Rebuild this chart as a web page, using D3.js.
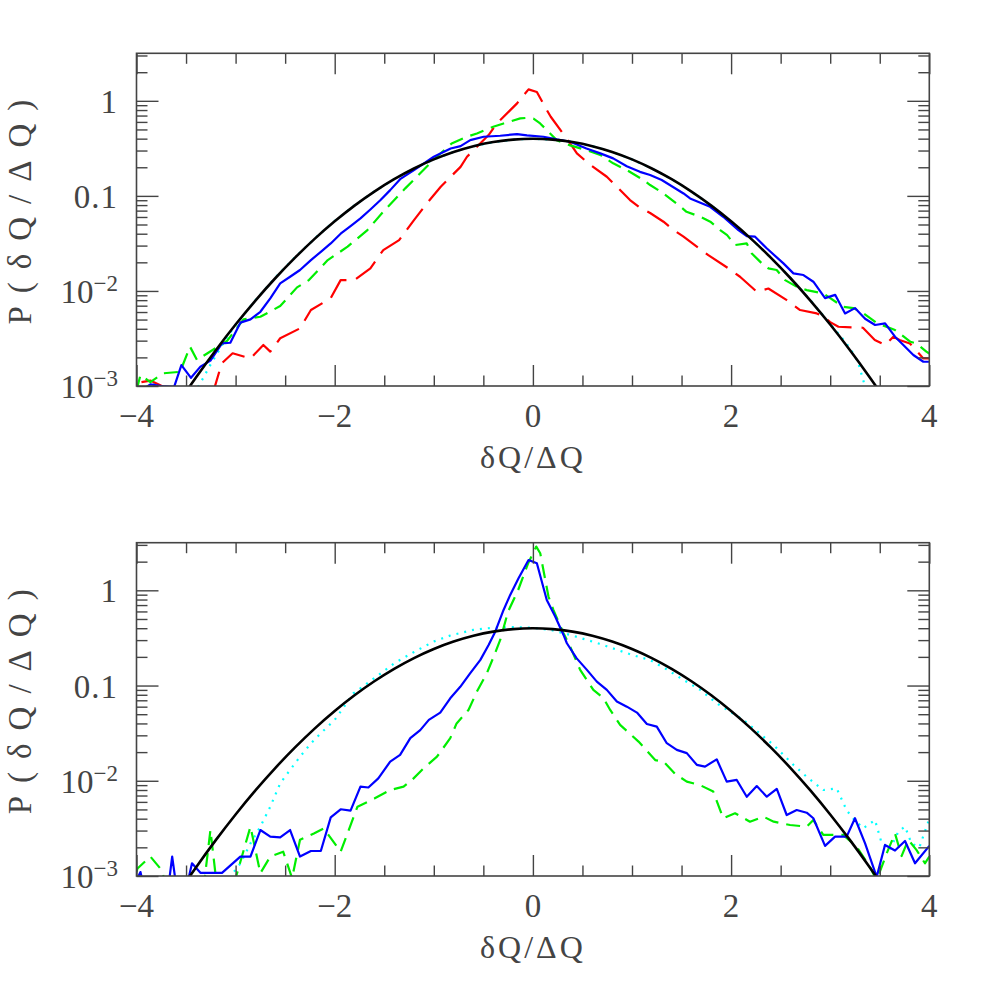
<!DOCTYPE html>
<html><head><meta charset="utf-8">
<script src="https://cdn.jsdelivr.net/npm/d3@7"></script>
<style>body{margin:0;background:#fff}</style>
</head><body>
<svg id="c" width="981" height="981"></svg>
<script>
// ---------- DATA ----------
const xMajorTicks = [-4, -2, 0, 2, 4];
const xMinorTicks = [-3.5, -3, -2.5, -1.5, -1, -0.5, 0.5, 1, 1.5, 2.5, 3, 3.5];
const yMajorTicks = [0.001, 0.01, 0.1, 1];
const yTickLabels = [["10", "−3"], ["10", "−2"], ["0.1", null], ["1", null]];
const xAxisTitle = "δQ/ΔQ";
const yAxisTitle = "P(δQ/ΔQ)";

// Gaussian reference (black solid), same in both panels
const gaussX = [-4,-3.8,-3.6,-3.4,-3.2,-3,-2.8,-2.6,-2.4,-2.2,-2,-1.8,-1.6,-1.4,-1.2,-1,-0.8,-0.6,-0.4,-0.2,0,0.2,0.4,0.6,0.8,1,1.2,1.4,1.6,1.8,2,2.2,2.4,2.6,2.8,3,3.2,3.4,3.6,3.8,4];
const gaussP = [0.000134,0.000292,0.000612,0.00123,0.00238,0.00443,0.00792,0.0136,0.0224,0.0355,0.0540,0.0790,0.1109,0.1497,0.1942,0.2420,0.2897,0.3332,0.3683,0.3910,0.3989,0.3910,0.3683,0.3332,0.2897,0.2420,0.1942,0.1497,0.1109,0.0790,0.0540,0.0355,0.0224,0.0136,0.00792,0.00443,0.00238,0.00123,0.000612,0.000292,0.000134];

// Top panel
const topCyanX = [-3.9,-3.82,-3.7,-3.4,-3.35,-3.25,-3.1,-3,-2.8,-2.6,-2.4,-2.2,-2,-1.8,-1.6,-1.4,-1.2,-1,-0.8,-0.6,-0.4,-0.2,0,0.2,0.4,0.6,0.8,1,1.2,1.4,1.6,1.8,2,2.2,2.4,2.6,2.8,3,3.1,3.2,3.28,3.35,3.4];
const topCyanP = [0.00095,0.00105,0.0009,0.0009,0.0011,0.0017,0.0031,0.0044,0.0080,0.0138,0.0226,0.0358,0.0545,0.0795,0.1112,0.150,0.194,0.242,0.290,0.333,0.368,0.391,0.399,0.391,0.368,0.333,0.290,0.242,0.194,0.150,0.111,0.079,0.054,0.0355,0.0224,0.0137,0.0080,0.0045,0.0034,0.0025,0.0018,0.0010,0.0007];

const topBlueX = [-3.95,-3.86,-3.75,-3.62,-3.547,-3.45,-3.355,-3.254,-3.137,-3.053,-2.952,-2.85,-2.75,-2.65,-2.55,-2.45,-2.35,-2.24,-2.14,-2.04,-1.94,-1.84,-1.74,-1.64,-1.54,-1.44,-1.34,-1.2,-1.0,-0.83,-0.73,-0.632,-0.497,-0.33,-0.16,-0.06,0.107,0.24,0.376,0.54,0.68,0.81,0.947,1.08,1.183,1.3,1.52,1.586,1.788,1.92,2.074,2.158,2.242,2.359,2.528,2.629,2.73,2.83,2.948,3.05,3.15,3.25,3.352,3.453,3.554,3.654,3.738,3.839,3.94,4.0];
const topBlueP = [0.0009,0.00104,0.001,0.00098,0.00166,0.00122,0.0016,0.00185,0.00281,0.00285,0.00464,0.00502,0.00604,0.00836,0.012,0.0141,0.0166,0.0211,0.0258,0.0316,0.040,0.048,0.058,0.072,0.090,0.115,0.150,0.187,0.258,0.315,0.334,0.386,0.419,0.429,0.447,0.433,0.419,0.393,0.371,0.315,0.28,0.248,0.205,0.179,0.166,0.147,0.106,0.094,0.0768,0.0603,0.0437,0.0378,0.0372,0.0281,0.0195,0.0153,0.0147,0.0125,0.0084,0.0091,0.0058,0.0066,0.0051,0.00438,0.00456,0.0033,0.0027,0.00212,0.0018,0.0018];

const topGreenX = [-4.0,-3.96,-3.86,-3.73,-3.56,-3.46,-3.39,-3.085,-2.92,-2.75,-2.55,-2.38,-2.26,-2.07,-1.87,-1.67,-1.5,-1.288,-1.137,-0.97,-0.82,-0.665,-0.565,-0.4,-0.296,-0.128,-0.044,0.006,0.073,0.174,0.24,0.376,0.54,0.68,0.81,0.947,1.116,1.183,1.318,1.49,1.55,1.69,1.79,1.89,1.96,2.04,2.158,2.209,2.31,2.376,2.46,2.545,2.66,2.763,2.93,3.13,3.233,3.336,3.47,3.654,3.81,3.87,3.97,4.0];
const topGreenP = [0.0009,0.0013,0.0011,0.00136,0.00141,0.00259,0.00188,0.00299,0.00502,0.00535,0.00693,0.0109,0.013,0.0211,0.0292,0.0437,0.070,0.12,0.173,0.258,0.356,0.419,0.454,0.533,0.578,0.653,0.664,0.65,0.578,0.454,0.386,0.34,0.303,0.27,0.22,0.187,0.147,0.130,0.106,0.0768,0.068,0.0603,0.0535,0.0437,0.0386,0.0304,0.0316,0.0248,0.0195,0.0173,0.0166,0.013,0.0111,0.0102,0.0094,0.0068,0.0066,0.0058,0.0046,0.00388,0.00292,0.0028,0.0023,0.0022];

const topRedX = [-3.95,-3.86,-3.7,-3.4,-3.21,-3.14,-3.03,-2.85,-2.72,-2.65,-2.55,-2.35,-2.24,-2.04,-1.94,-1.8,-1.64,-1.51,-1.35,-1.2,-1.07,-0.93,-0.83,-0.73,-0.665,-0.447,-0.363,-0.16,-0.044,0.04,0.14,0.18,0.376,0.444,0.56,0.746,0.98,1.08,1.183,1.318,1.42,1.52,1.654,1.77,1.973,2.09,2.26,2.376,2.562,2.696,2.864,2.93,3.0,3.083,3.33,3.45,3.554,3.637,3.7,3.804,3.94,4.0];
const topRedP = [0.0011,0.00114,0.00095,0.0007,0.00098,0.00173,0.00221,0.00195,0.0027,0.0023,0.00318,0.00404,0.0063,0.0084,0.013,0.013,0.0173,0.0269,0.0343,0.0557,0.0834,0.125,0.159,0.202,0.258,0.436,0.578,0.94,1.32,1.24,0.80,0.68,0.356,0.28,0.22,0.159,0.0904,0.075,0.066,0.0535,0.0437,0.0372,0.0292,0.0238,0.0173,0.0141,0.0098,0.0106,0.008,0.0063,0.0058,0.0054,0.0047,0.0042,0.0041,0.00305,0.0027,0.0033,0.00305,0.0028,0.00195,0.00195];

// Bottom panel
const botCyanX = [-3.1,-3.05,-2.95,-2.85,-2.75,-2.65,-2.55,-2.45,-2.35,-2.24,-2.14,-2.0,-1.81,-1.51,-1.4,-1.2,-1.0,-0.834,-0.6,-0.4,-0.2,0,0.2,0.4,0.67,1.0,1.183,1.34,1.52,1.69,1.855,2.125,2.427,2.629,2.763,2.93,3.066,3.166,3.233,3.334,3.452,3.52,3.6,3.688,3.755,3.82,3.9,3.99];
const botCyanP = [0.0008,0.001,0.00136,0.0022,0.0033,0.00535,0.0094,0.013,0.0179,0.0247,0.0316,0.0435,0.083,0.14,0.171,0.225,0.29,0.335,0.385,0.405,0.41,0.405,0.38,0.335,0.275,0.21,0.185,0.15,0.1145,0.09,0.065,0.0435,0.0238,0.0147,0.011,0.008,0.0083,0.0049,0.004,0.00317,0.00387,0.0022,0.00188,0.00292,0.0033,0.0022,0.002,0.00372];

const botBlueX = [-4.0,-3.96,-3.93,-3.67,-3.64,-3.6,-3.49,-3.44,-3.355,-3.137,-2.952,-2.85,-2.75,-2.65,-2.55,-2.45,-2.35,-2.24,-2.14,-2.04,-1.94,-1.84,-1.74,-1.66,-1.56,-1.44,-1.34,-1.237,-1.137,-1.05,-0.935,-0.834,-0.733,-0.632,-0.53,-0.447,-0.38,-0.296,-0.229,-0.145,-0.044,0.04,0.14,0.225,0.309,0.343,0.44,0.545,0.645,0.746,0.847,0.948,1.05,1.15,1.25,1.351,1.452,1.553,1.654,1.737,1.855,1.956,2.057,2.158,2.259,2.36,2.461,2.561,2.662,2.763,2.83,2.948,3.049,3.166,3.25,3.352,3.469,3.553,3.654,3.755,3.856,4.0];
const botBlueP = [0.0009,0.0011,0.0008,0.0009,0.0016,0.0008,0.0008,0.00136,0.00108,0.00108,0.0016,0.0016,0.00304,0.00259,0.00255,0.00304,0.0016,0.00183,0.00183,0.00413,0.00502,0.00485,0.00867,0.0085,0.0106,0.0159,0.0187,0.028,0.034,0.0436,0.052,0.0735,0.097,0.135,0.186,0.267,0.368,0.622,0.895,1.34,2.08,1.92,0.79,0.53,0.34,0.278,0.194,0.146,0.11,0.09,0.068,0.060,0.052,0.0395,0.037,0.0248,0.0211,0.0195,0.0147,0.0141,0.0168,0.0098,0.0102,0.0068,0.0088,0.0068,0.0082,0.00437,0.00493,0.00462,0.00404,0.00207,0.00259,0.00259,0.00404,0.0022,0.00098,0.00212,0.00185,0.00233,0.00136,0.00207];

const botGreenX = [-4.0,-3.99,-3.86,-3.76,-3.69,-3.32,-3.254,-3.19,-3.02,-2.85,-2.75,-2.65,-2.52,-2.43,-2.35,-2.21,-2.11,-1.94,-1.77,-1.6,-1.44,-1.305,-1.22,-1.12,-0.968,-0.834,-0.77,-0.65,-0.565,-0.464,-0.396,-0.33,-0.25,-0.15,-0.05,0.034,0.074,0.157,0.208,0.309,0.376,0.477,0.61,0.713,0.78,0.88,1.066,1.234,1.318,1.435,1.553,1.687,1.82,1.92,2.04,2.19,2.326,2.43,2.595,2.763,2.83,2.93,3.13,3.267,3.4,3.469,3.57,3.654,3.72,3.788,3.87,3.956,4.0];
const botGreenP = [0.0011,0.0012,0.0016,0.0012,0.0008,0.0008,0.00304,0.0008,0.0008,0.0033,0.00107,0.0016,0.0018,0.00095,0.0024,0.0028,0.00316,0.0018,0.00535,0.0065,0.008,0.00867,0.0102,0.013,0.0179,0.028,0.040,0.0554,0.0863,0.135,0.201,0.301,0.6,1.0,1.9,2.88,2.45,0.86,0.62,0.354,0.256,0.146,0.09,0.0735,0.0554,0.0386,0.0258,0.0165,0.0159,0.0118,0.0098,0.009,0.0077,0.00404,0.00456,0.00372,0.0042,0.00372,0.00343,0.0033,0.00387,0.0027,0.0027,0.00203,0.00125,0.0009,0.00173,0.0028,0.00162,0.0024,0.00188,0.00136,0.0016];

// ---------- DRAW ----------
const svg = d3.select("#c");
const left = 136.5, right = 929.3;
const panels = [
  {top: 53.3, bottom: 386, series: [
    {x: topCyanX, p: topCyanP, color: "#00ffff", dash: "2,6"},
    {x: topRedX, p: topRedP, color: "#ff0000", dash: "26,10"},
    {x: topGreenX, p: topGreenP, color: "#00ee00", dash: "14,8"},
    {x: topBlueX, p: topBlueP, color: "#0000ff", dash: null},
    {x: gaussX, p: gaussP, color: "#000000", dash: null, w: 2.6}
  ]},
  {top: 542.7, bottom: 876, series: [
    {x: botCyanX, p: botCyanP, color: "#00ffff", dash: "2,6"},
    {x: botGreenX, p: botGreenP, color: "#00ee00", dash: "14,8"},
    {x: botBlueX, p: botBlueP, color: "#0000ff", dash: null},
    {x: gaussX, p: gaussP, color: "#000000", dash: null, w: 2.6}
  ]}
];

const font = "'Liberation Serif', 'DejaVu Serif', serif";
const axisColor = "#444";
const textColor = "#444";

panels.forEach((pn, i) => {
  const x = d3.scaleLinear().domain([-4, 4]).range([left, right]);
  const y = d3.scaleLog().domain([1e-3, Math.pow(10, 0.5)]).range([pn.bottom, pn.top]);
  const g = svg.append("g");
  const cid = "clip" + i;
  svg.append("defs").append("clipPath").attr("id", cid)
    .append("rect").attr("x", left).attr("y", pn.top).attr("width", right - left).attr("height", pn.bottom - pn.top);

  // series
  const line = d3.line().x(d => x(d[0])).y(d => y(d[1]));
  const smooth = d3.line().x(d => x(d[0])).y(d => y(d[1])).curve(d3.curveNatural);
  pn.series.forEach(s => {
    const pts = s.x.map((v, k) => [v, s.p[k]]);
    const path = g.append("path").datum(pts)
      .attr("clip-path", `url(#${cid})`)
      .attr("fill", "none")
      .attr("stroke", s.color)
      .attr("stroke-width", s.w || 2.2)
      .attr("stroke-linejoin", "round")
      .attr("d", s.color === "#000000" ? smooth(pts) : line(pts));
    if (s.dash) path.attr("stroke-dasharray", s.dash);
  });

  // axes (ticks inward, mirrored)
  const minorY = [];
  [0.001, 0.01, 0.1, 1].forEach(dec => { for (let m = 2; m <= 9; m++) { const v = dec * m; if (v <= Math.pow(10, 0.5)) minorY.push(v); } });
  const mk = ax => ax.tickFormat("").tickSizeOuter(0);
  const axes = [
    g.append("g").attr("transform", `translate(0,${pn.bottom})`).call(mk(d3.axisBottom(x).tickValues(xMajorTicks).tickSize(-21))),
    g.append("g").attr("transform", `translate(0,${pn.bottom})`).call(mk(d3.axisBottom(x).tickValues(xMinorTicks).tickSize(-10.5))),
    g.append("g").attr("transform", `translate(0,${pn.top})`).call(mk(d3.axisTop(x).tickValues(xMajorTicks).tickSize(-21))),
    g.append("g").attr("transform", `translate(0,${pn.top})`).call(mk(d3.axisTop(x).tickValues(xMinorTicks).tickSize(-10.5))),
    g.append("g").attr("transform", `translate(${left},0)`).call(mk(d3.axisLeft(y).tickValues(yMajorTicks).tickSize(-22))),
    g.append("g").attr("transform", `translate(${left},0)`).call(mk(d3.axisLeft(y).tickValues(minorY).tickSize(-11))),
    g.append("g").attr("transform", `translate(${right},0)`).call(mk(d3.axisRight(y).tickValues(yMajorTicks).tickSize(-22))),
    g.append("g").attr("transform", `translate(${right},0)`).call(mk(d3.axisRight(y).tickValues(minorY).tickSize(-11)))
  ];
  axes.forEach(a => {
    a.select(".domain").remove();
    a.selectAll("line").attr("stroke", axisColor).attr("stroke-width", 1.4);
  });
  g.append("rect").attr("x", left).attr("y", pn.top).attr("width", right - left).attr("height", pn.bottom - pn.top)
    .attr("fill", "none").attr("stroke", axisColor).attr("stroke-width", 1.6);

  // x tick labels
  g.selectAll(".xl").data(xMajorTicks).join("text")
    .attr("x", d => x(d)).attr("y", pn.bottom + 41)
    .attr("text-anchor", "middle").attr("font-family", font).attr("font-size", 33).attr("fill", textColor)
    .text(d => d < 0 ? "−" + Math.abs(d) : String(d));

  // y tick labels
  yMajorTicks.forEach((v, k) => {
    const [base, exp] = yTickLabels[k];
    const t = g.append("text").attr("x", 118).attr("y", y(v) + 12)
      .attr("text-anchor", "end").attr("font-family", font).attr("font-size", 33).attr("fill", textColor);
    t.append("tspan").attr("letter-spacing", exp ? 0 : 1).text(base);
    if (exp) t.append("tspan").attr("font-size", 23).attr("dy", -12).text(exp);
  });

  // axis titles
  g.append("text").attr("x", (left + right) / 2).attr("y", pn.bottom + 82)
    .attr("text-anchor", "middle").attr("font-family", font).attr("font-size", 32).attr("fill", textColor)
    .attr("letter-spacing", 3).text(xAxisTitle);
  g.append("text").attr("transform", `translate(31,${(pn.top + pn.bottom) / 2 - 14}) rotate(-90)`)
    .attr("text-anchor", "middle").attr("font-family", font).attr("font-size", 33).attr("fill", textColor)
    .attr("letter-spacing", 13).text(yAxisTitle);
});
</script>
</body></html>
